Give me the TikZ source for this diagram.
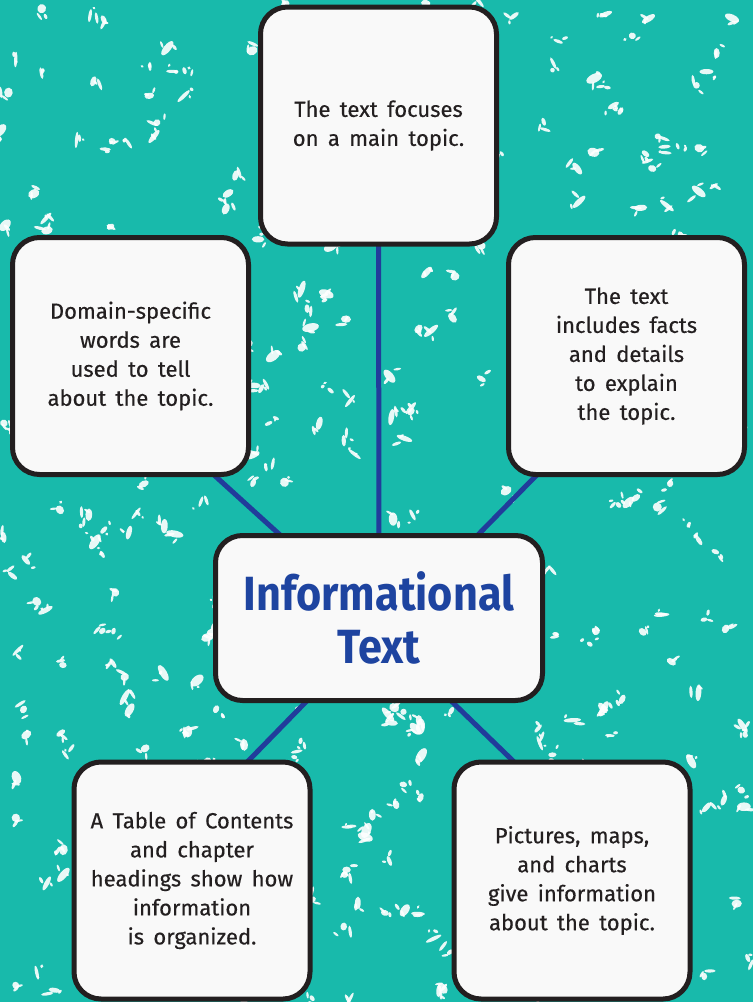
\documentclass[tikz,border=0pt]{standalone}
\usepackage{fontspec}
\setmainfont{Fira Sans}[WordSpace=1.6, FakeBold=0.4]
\newfontfamily\titlefont{Fira Sans}[FakeStretch=0.9]
\pgfdeclarelayer{bg}
\pgfdeclarelayer{links}
\pgfsetlayers{bg,links,main}
\definecolor{tealbg}{RGB}{24,186,171}
\definecolor{linkblue}{RGB}{33,60,155}
\definecolor{titleblue}{RGB}{30,68,160}
\definecolor{ink}{RGB}{35,31,32}
\definecolor{boxfill}{RGB}{249,249,249}
\tikzset{
  card/.style={draw=ink, line width=5pt, fill=boxfill, rounded corners=27pt,
    minimum width=236pt, minimum height=237pt, align=center, text=ink,
    font=\fontsize{22}{29}\selectfont, inner sep=0pt, outer sep=0pt},
  hub/.style={card, minimum width=327pt, minimum height=165pt,
    font=\titlefont\bfseries\fontsize{48}{53}\selectfont, text=titleblue},
  link/.style={draw=linkblue, line width=5pt},
  speck/.style={fill=white, opacity=0.9}
}
\begin{document}
\begin{tikzpicture}[x=1pt,y=-1pt]
\useasboundingbox (0,0) rectangle (753,1002);
\begin{pgfonlayer}{bg}
  \fill[tealbg] (0,0) rectangle (753,1002);
  \begin{scope}
  \clip (0,0) rectangle (753,1002);
  \pgfmathsetseed{7}
  \foreach \i in {1,...,420}{
    \pgfmathsetmacro{\px}{rnd*753}
    \pgfmathsetmacro{\py}{rnd*1002}
    \pgfmathsetmacro{\ra}{2+rnd*7}
    \pgfmathsetmacro{\rb}{1.5+rnd*3}
    \pgfmathsetmacro{\an}{rnd*180}
    \pgfmathsetmacro{\dx}{(rnd-0.5)*16}
    \pgfmathsetmacro{\dy}{(rnd-0.5)*16}
    \pgfmathsetmacro{\rc}{1.5+rnd*5}
    \pgfmathsetmacro{\ex}{(rnd-0.5)*16}
    \pgfmathsetmacro{\ey}{(rnd-0.5)*16}
    \fill[speck, rotate around={\an:(\px,\py)}] (\px,\py) ellipse ({\ra pt} and {\rb pt});
    \fill[speck, rotate around={-\an:(\px+\dx,\py+\dy)}] (\px+\dx,\py+\dy) ellipse ({\rc pt} and {1.6pt});
    \fill[speck, rotate around={\an+60:(\px+\ex,\py+\ey)}] (\px+\ex,\py+\ey) ellipse ({\rb pt} and {1.2pt});
  }
  \end{scope}
\end{pgfonlayer}

\node[card] (T) at (378.5,125.5) {The text focuses\\on a main topic.};
\node[card] (L) at (130.5,356) {Domain-specific\\words are\\used to tell\\about the topic.};
\node[card] (R) at (626.5,356) {The text\\includes facts\\and details\\to explain\\the topic.};
\node[hub] (C) at (379,618) {Informational\\Text};
\node[card] (BL) at (192,880.5) {A Table of Contents\\and chapter\\headings show how\\information\\is organized.};
\node[card] (BR) at (572,880.5) {Pictures, maps,\\and charts\\give information\\about the topic.};

\begin{pgfonlayer}{links}
  \draw[link] (T.south) -- (C.north);
  \draw[link] (L.-55) -- (C.140);
  \draw[link] (R.-127) -- (C.40);
  \draw[link] (BL.65) -- (C.-131);
  \draw[link] (BR.116) -- (C.-49);
\end{pgfonlayer}
\end{tikzpicture}
\end{document}
